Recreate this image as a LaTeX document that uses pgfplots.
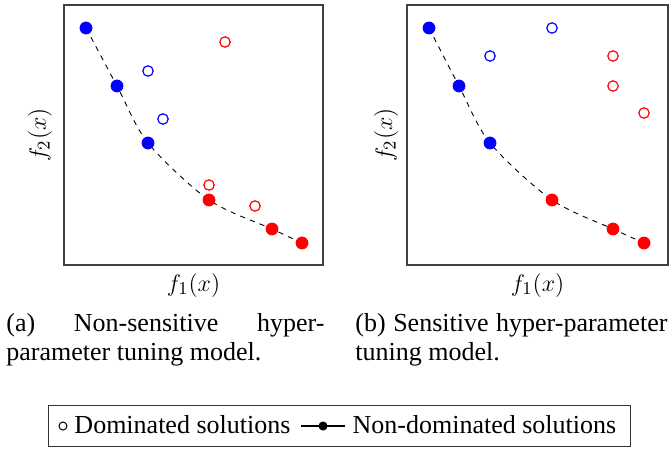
\documentclass[border=0pt]{standalone}
\usepackage{fontspec}
\setmainfont{Liberation Serif}
\usepackage{pgfplots}
\pgfplotsset{compat=1.18}

\definecolor{ndblue}{RGB}{0,0,255}
\definecolor{ndred}{RGB}{255,0,0}

\pgfplotsset{
  pareto/.style={
    scale only axis, height=130pt,
    xmin=0, ymin=0, ymax=260,
    xtick=\empty, ytick=\empty,
    axis line style={black!75, line width=0.6pt},
    label style={font=\fontsize{12.5}{14}\selectfont},
    xlabel={$f_1(x)$}, ylabel={$f_2(x)$},
    clip=false,
  },
  front/.style={black, line width=0.45pt, dash pattern=on 2.6pt off 2.6pt, smooth, forget plot},
  nd/.style={only marks, mark=*, mark size=3pt, forget plot},
  dom/.style={only marks, mark=o, mark size=2.6pt, mark options={line width=0.6pt, fill=white}, forget plot},
}

\begin{document}
\begin{tikzpicture}
\path[use as bounding box] (0pt,0pt) rectangle (336pt,-224pt);

% (a) non-sensitive model
\begin{axis}[pareto, width=129.5pt, xmax=259,
  at={(32pt,-132.5pt)}, anchor=south west,
  xlabel style={at={(axis description cs:0.5,-0.077)}, anchor=center},
  ylabel style={at={(axis description cs:-0.093,0.5)}, anchor=center},
  legend columns=2,
  legend style={
    at={(axis description cs:-0.0618,-0.5385)}, anchor=north west,
    draw=black!80, line width=0.5pt,
    font=\fontsize{13}{15}\selectfont,
    inner xsep=5pt, inner ysep=3pt,
    /tikz/every odd column/.append style={column sep=1.5pt},
    /tikz/every even column/.append style={column sep=3pt},
  },
  legend cell align=left,
]
\addlegendimage{legend image code/.code={\draw[black, line width=0.5pt] (0pt,0pt) circle (2pt);}}
\addlegendentry{Dominated solutions}
\addlegendimage{legend image code/.code={\draw[black, line width=0.6pt] (0pt,0pt) -- (22pt,0pt); \fill[black] (11pt,0pt) circle (2pt);}}
\addlegendentry{Non-dominated solutions}

\addplot[front] coordinates {(22,237) (53,179) (84,122) (145,65) (208,36) (238,22)};
\addplot[dom, ndblue] coordinates {(84,194) (99,146)};
\addplot[dom, ndred] coordinates {(161,223) (145,80) (191,59)};
\addplot[nd, ndblue] coordinates {(22,237) (53,179) (84,122)};
\addplot[nd, ndred] coordinates {(145,65) (208,36) (238,22)};
\end{axis}

% (b) sensitive model
\begin{axis}[pareto, width=130.5pt, xmax=261,
  at={(203.5pt,-132.5pt)}, anchor=south west,
  xlabel style={at={(axis description cs:0.5,-0.077)}, anchor=center},
  ylabel style={at={(axis description cs:-0.08,0.5)}, anchor=center},
]
\addplot[front] coordinates {(22,237) (52,179) (83,122) (145,65) (206,36) (237,22)};
\addplot[dom, ndblue] coordinates {(145,237) (83,209)};
\addplot[dom, ndred] coordinates {(206,209) (206,179) (237,152)};
\addplot[nd, ndblue] coordinates {(22,237) (52,179) (83,122)};
\addplot[nd, ndred] coordinates {(145,65) (206,36) (237,22)};
\end{axis}

% sub-captions
\node[anchor=north west, inner sep=0pt, text width=159pt, align=justify,
      font=\fontsize{13}{14.5}\selectfont] at (3pt,-156.6pt)
  {(a) Non-sensitive hyper-\linebreak parameter tuning model.};
\node[anchor=north west, inner sep=0pt, text width=156pt, align=justify,
      font=\fontsize{13}{14.5}\selectfont] at (177.5pt,-156.6pt)
  {(b) Sensitive hyper-parameter\linebreak tuning model.};
\end{tikzpicture}
\end{document}
